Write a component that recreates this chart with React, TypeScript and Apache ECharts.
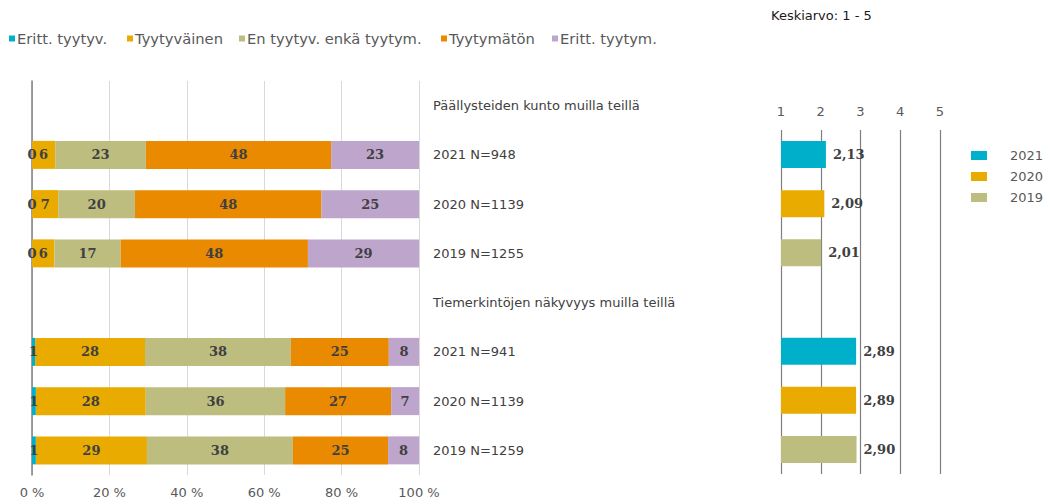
import React, { useEffect, useRef } from "react";
import * as echarts from "echarts";

// ---- data ----
const categories = [
  "Päällysteiden kunto muilla teillä",
  "2021 N=948",
  "2020 N=1139",
  "2019 N=1255",
  "Tiemerkintöjen näkyvyys muilla teillä",
  "2021 N=941",
  "2020 N=1139",
  "2019 N=1259",
];
const responseNames = [
  "Eritt. tyytyv.",
  "Tyytyväinen",
  "En tyytyv. enkä tyytym.",
  "Tyytymätön",
  "Eritt. tyytym.",
];
const paallysteet2021 = [0, 6.0, 23.4, 47.9, 22.7];
const paallysteet2020 = [0, 6.8, 19.8, 48.2, 25.2];
const paallysteet2019 = [0, 5.8, 17.1, 48.4, 28.7];
const tiemerkinnat2021 = [0.8, 28.4, 37.7, 25.3, 7.8];
const tiemerkinnat2020 = [1.0, 28.4, 36.0, 27.4, 7.2];
const tiemerkinnat2019 = [1.0, 28.7, 37.7, 24.6, 8.0];
const percentTicks = [0, 20, 40, 60, 80, 100];

const meanYears = ["2021", "2020", "2019"];
const meanPaallysteet = [2.13, 2.09, 2.01];
const meanTiemerkinnat = [2.89, 2.89, 2.9];
const meanTicks = [1, 2, 3, 4, 5];

// ---- styles ----
const responseColors = ["#00B0CA", "#EAAB00", "#BDBD80", "#EA8A00", "#BEA5CC"];
const yearColors = ["#00B0CA", "#EAAB00", "#BDBD80"];
const legendLefts = [9, 127, 239, 441, 552];
const SANS = "DejaVu Sans";
const SERIF = "DejaVu Serif";

export default function App() {
  const ref = useRef<HTMLDivElement>(null);

  useEffect(() => {
    if (!ref.current) return;
    const chart = echarts.init(ref.current, undefined, { renderer: "svg" });

    const rows: (number[] | null)[] = [
      null,
      paallysteet2021,
      paallysteet2020,
      paallysteet2019,
      null,
      tiemerkinnat2021,
      tiemerkinnat2020,
      tiemerkinnat2019,
    ];

    const leftSeries = responseNames.map((name, j) => ({
      name,
      type: "bar",
      stack: "total",
      xAxisIndex: 0,
      yAxisIndex: 0,
      barWidth: 28,
      itemStyle: { color: responseColors[j] },
      label: {
        show: true,
        position: "inside",
        formatter: (p: any) => String(Math.round(p.value)),
        fontFamily: SERIF,
        fontWeight: "bold",
        fontSize: 13,
        color: "#404040",
      },
      data: rows.map((r) => (r ? r[j] : "-")),
    }));

    // right chart: 7 rows (first header row dropped)
    const rightCategories = categories.slice(1);
    const rightSeries = meanYears.map((year, i) => {
      const data: (number | string)[] = rightCategories.map(() => "-");
      data[i] = meanPaallysteet[i];
      data[4 + i] = meanTiemerkinnat[i];
      return {
        name: year,
        type: "bar",
        xAxisIndex: 1,
        yAxisIndex: 2,
        barWidth: 27,
        barGap: "-100%",
        clip: true,
        itemStyle: { color: yearColors[i] },
        label: {
          show: true,
          position: "right",
          distance: 7,
          formatter: (p: any) => Number(p.value).toFixed(2).replace(".", ","),
          fontFamily: SERIF,
          fontWeight: "bold",
          fontSize: 13,
          color: "#404040",
        },
        data,
      };
    });

    const leftLegends = responseNames.map((name, j) => ({
      data: [name],
      left: legendLefts[j],
      top: 31,
      padding: 0,
      icon: "rect",
      itemWidth: 6,
      itemHeight: 6,
      selectedMode: false,
      textStyle: {
        fontFamily: SANS,
        fontSize: 14.7,
        color: "#595959",
        padding: [0, 0, 0, -3],
      },
    }));

    chart.setOption({
      animation: false,
      backgroundColor: "#ffffff",
      title: {
        text: "Keskiarvo: 1 - 5",
        left: 771,
        top: 9,
        padding: 0,
        textStyle: { fontFamily: SANS, fontSize: 13, fontWeight: "normal", color: "#1a1a1a" },
      },
      legend: [
        ...leftLegends,
        {
          data: meanYears,
          orient: "vertical",
          left: 971,
          top: 149,
          padding: 0,
          icon: "rect",
          itemWidth: 16,
          itemHeight: 9,
          itemGap: 8,
          selectedMode: false,
          textStyle: {
            fontFamily: SANS,
            fontSize: 13,
            color: "#595959",
            padding: [0, 0, 0, 18],
          },
        },
      ],
      grid: [
        { left: 32, top: 81, width: 387, height: 394 },
        { left: 781, top: 130, width: 159, height: 344 },
      ],
      xAxis: [
        {
          type: "value",
          gridIndex: 0,
          min: percentTicks[0],
          max: percentTicks[percentTicks.length - 1],
          interval: percentTicks[1] - percentTicks[0],
          axisLine: { show: false },
          axisTick: { show: false },
          splitLine: { show: true, lineStyle: { color: "#d9d9d9", width: 1 } },
          axisLabel: {
            formatter: "{value} %",
            margin: 11,
            color: "#595959",
            fontFamily: SANS,
            fontSize: 13,
          },
        },
        {
          type: "value",
          gridIndex: 1,
          position: "top",
          min: meanTicks[0],
          max: meanTicks[meanTicks.length - 1],
          interval: meanTicks[1] - meanTicks[0],
          axisLine: { show: false },
          axisTick: { show: false },
          splitLine: { show: true, lineStyle: { color: "#7f7f7f", width: 1.2 } },
          axisLabel: {
            margin: 12,
            color: "#595959",
            fontFamily: SANS,
            fontSize: 13,
          },
        },
      ],
      yAxis: [
        {
          type: "category",
          gridIndex: 0,
          inverse: true,
          position: "left",
          data: categories,
          axisLine: { show: true, lineStyle: { color: "#7f7f7f", width: 1.5 } },
          axisTick: { show: false },
          axisLabel: { show: false },
        },
        {
          type: "category",
          gridIndex: 0,
          inverse: true,
          position: "right",
          data: categories,
          axisLine: { show: false },
          axisTick: { show: false },
          axisLabel: {
            show: true,
            margin: 14,
            align: "left",
            color: "#404040",
            fontFamily: SANS,
            fontSize: 13,
          },
        },
        {
          type: "category",
          gridIndex: 1,
          inverse: true,
          data: rightCategories,
          axisLine: { show: false },
          axisTick: { show: false },
          axisLabel: { show: false },
        },
      ],
      series: [...leftSeries, ...rightSeries],
    });

    return () => chart.dispose();
  }, []);

  return (
    <div
      ref={ref}
      style={{ position: "fixed", left: 0, top: 0, width: 1050, height: 504 }}
    />
  );
}
